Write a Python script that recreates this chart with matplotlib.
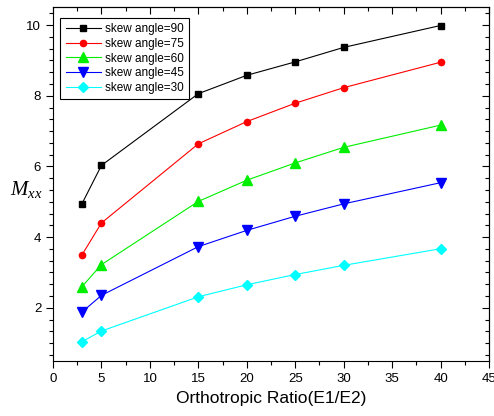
import matplotlib
matplotlib.use("Agg")
import matplotlib.pyplot as plt
from matplotlib.ticker import MultipleLocator

plt.rcParams['font.family'] = ['Liberation Sans', 'DejaVu Sans']
plt.rcParams['mathtext.fontset'] = 'custom'
plt.rcParams['mathtext.it'] = 'Liberation Serif:italic'
plt.rcParams['mathtext.rm'] = 'Liberation Serif'

ratio = [3, 5, 15, 20, 25, 30, 40]
labels = ["skew angle=90", "skew angle=75", "skew angle=60", "skew angle=45", "skew angle=30"]
m90 = [4.95, 6.03, 8.06, 8.58, 8.96, 9.37, 9.99]
m75 = [3.50, 4.40, 6.64, 7.27, 7.79, 8.23, 8.95]
m60 = [2.60, 3.22, 5.01, 5.61, 6.10, 6.54, 7.17]
m45 = [1.88, 2.35, 3.73, 4.19, 4.59, 4.94, 5.54]
m30 = [1.04, 1.34, 2.31, 2.65, 2.94, 3.20, 3.67]

series = [m90, m75, m60, m45, m30]
colors = ["black", "#ff0000", "#00ee00", "#0000ff", "#00ffff"]
markers = ["s", "o", "^", "v", "D"]
msizes = [4.3, 4.5, 7, 7, 5.5]

fig = plt.figure(figsize=(4.94, 4.16), dpi=100)
ax = fig.add_axes([0.1073, 0.1329, 0.8826, 0.8491])

for vals, c, m, s, lab in zip(series, colors, markers, msizes, labels):
    ax.plot(ratio, vals, color=c, marker=m, markersize=s, linewidth=0.8,
            markeredgecolor=c, markerfacecolor=c, label=lab)

ax.set_xlim(0, 45)
ax.set_ylim(0.5, 10.5)
ax.xaxis.set_major_locator(MultipleLocator(5))
ax.xaxis.set_minor_locator(MultipleLocator(2.5))
ax.yaxis.set_major_locator(MultipleLocator(2))
ax.yaxis.set_minor_locator(MultipleLocator(1/3))

ax.tick_params(axis='both', which='major', direction='out', length=5, width=0.8,
               labelsize=9.5, top=False, right=False)
ax.tick_params(axis='both', which='minor', direction='out', length=3, width=0.8,
               top=False, right=False)
ax.tick_params(axis='x', pad=4)

# inward ticks on top and right (mirror)
axt = ax.secondary_xaxis('top')
axt.xaxis.set_major_locator(MultipleLocator(5))
axt.xaxis.set_minor_locator(MultipleLocator(2.5))
axt.tick_params(which='major', direction='in', length=5, width=0.8, labeltop=False)
axt.tick_params(which='minor', direction='in', length=3, width=0.8)
axr = ax.secondary_yaxis('right')
axr.yaxis.set_major_locator(MultipleLocator(2))
axr.yaxis.set_minor_locator(MultipleLocator(1/3))
axr.tick_params(which='major', direction='in', length=5, width=0.8, labelright=False)
axr.tick_params(which='minor', direction='in', length=3, width=0.8)
for a in (axt, axr):
    for sp in a.spines.values():
        sp.set_linewidth(0.8)
for sp in ax.spines.values():
    sp.set_linewidth(0.8)

ax.set_xlabel("Orthotropic Ratio(E1/E2)", fontsize=12.5, labelpad=4)
ax.set_ylabel(r"$M_{xx}$", fontsize=15, rotation=0, va='center', ha='center')
ax.yaxis.set_label_coords(-0.062, 0.485)

leg = ax.legend(loc='upper left', fontsize=8.5, frameon=True, fancybox=False,
                edgecolor='black', framealpha=1, handlelength=3.0,
                handletextpad=0.35, labelspacing=0.22, borderpad=0.45,
                borderaxespad=0, bbox_to_anchor=(0.017, 0.97))
leg.get_frame().set_linewidth(0.8)

fig.savefig("out.png", dpi=100)
